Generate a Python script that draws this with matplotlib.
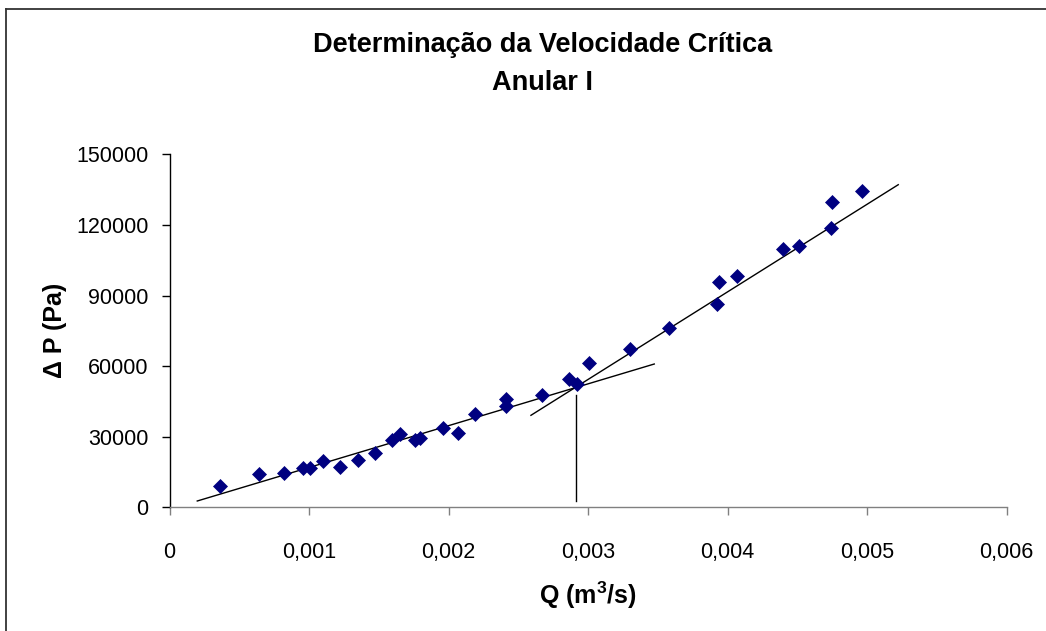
import matplotlib
matplotlib.use("Agg")
import matplotlib.pyplot as plt
from matplotlib.ticker import FuncFormatter
from matplotlib.lines import Line2D

plt.rcParams['font.family'] = ['Liberation Sans', 'DejaVu Sans']
plt.rcParams['mathtext.fontset'] = 'custom'
plt.rcParams['mathtext.rm'] = 'Liberation Sans'
plt.rcParams['mathtext.bf'] = 'Liberation Sans:bold'

# Measured points: Q (m3/s) vs Delta P (Pa)
q_vals = [0.000362, 0.000642, 0.000823, 0.000959, 0.001005, 0.001103, 0.00122,
          0.001354, 0.001471, 0.001593, 0.001652, 0.00176, 0.001796, 0.001963,
          0.00207, 0.002192, 0.002412, 0.002412, 0.002673, 0.002866, 0.002919,
          0.003009, 0.003301, 0.003581, 0.003923, 0.003939, 0.004068, 0.004396,
          0.004515, 0.00474, 0.004747, 0.004966]
dp_vals = [9180, 14020, 14700, 16570, 16570, 19670, 17000,
           20100, 22950, 28600, 31150, 28600, 29320, 33830,
           31700, 39520, 46020, 43180, 47720, 54390, 52270,
           61450, 67140, 76060, 86260, 95740, 98420, 109900,
           111160, 118680, 129860, 134280]

# Trend lines (endpoints)
laminar_q = [0.000199, 0.003475]
laminar_dp = [2680, 60890]
turbulent_q = [0.002591, 0.005224]
turbulent_dp = [39090, 137080]
critical_q = [0.002912, 0.002912]
critical_dp = [2700, 47600]

x_ticks = [0, 0.001, 0.002, 0.003, 0.004, 0.005, 0.006]
y_ticks = [0, 30000, 60000, 90000, 120000, 150000]

fig = plt.figure(figsize=(10.46, 6.31), dpi=100)
ax = fig.add_axes([169.5/1046, 1-507.3/631, (1006.5-169.5)/1046, (507.3-154.3)/631])

ax.plot(laminar_q, laminar_dp, color='black', lw=1.0, zorder=2)
ax.plot(turbulent_q, turbulent_dp, color='black', lw=1.0, zorder=2)
ax.plot(critical_q, critical_dp, color='black', lw=1.0, zorder=2)
ax.plot(q_vals, dp_vals, linestyle='none', marker='D', markersize=7,
        markerfacecolor='#000080', markeredgecolor='#000080', markeredgewidth=0.5, zorder=3)

ax.set_xlim(0, 0.006)
ax.set_ylim(0, 150000)
ax.set_xticks(x_ticks)
ax.set_yticks(y_ticks)
ax.xaxis.set_major_formatter(FuncFormatter(lambda v, p: '0' if v == 0 else f'{v:.3f}'.replace('.', ',')))
ax.yaxis.set_major_formatter(FuncFormatter(lambda v, p: f'{int(round(v))}'))

for s in ['top', 'right']:
    ax.spines[s].set_visible(False)
ax.spines['left'].set_color('black')
ax.spines['bottom'].set_color('#808080')
ax.spines['left'].set_linewidth(1.0)
ax.spines['bottom'].set_linewidth(1.0)
ax.tick_params(axis='y', direction='out', length=6, width=1.0, color='black', pad=9, labelsize=15.5)
ax.tick_params(axis='x', direction='out', length=6, width=1.0, color='#808080', pad=19, labelsize=15.5)

ax.set_xlabel(r'Q (m$^\mathbf{3}$/s)', fontsize=18, fontweight='bold', labelpad=12)
ax.set_ylabel('\u0394 P (Pa)', fontsize=18, fontweight='bold', labelpad=7)

fig.text(543/1046, 1-45/631, 'Determina\u00e7\u00e3o da Velocidade Cr\u00edtica',
         ha='center', va='center', fontsize=19.5, fontweight='bold')
fig.text(543/1046, 1-83/631, 'Anular I', ha='center', va='center', fontsize=19.5, fontweight='bold')

# outer chart border (only top and left visible)
fig.add_artist(Line2D([6/1046, 6/1046], [0, 1-8.5/631], transform=fig.transFigure, color='#333333', lw=1.3))
fig.add_artist(Line2D([6/1046, 1], [1-8.5/631, 1-8.5/631], transform=fig.transFigure, color='#333333', lw=1.3))

fig.savefig('out.png', dpi=100)
